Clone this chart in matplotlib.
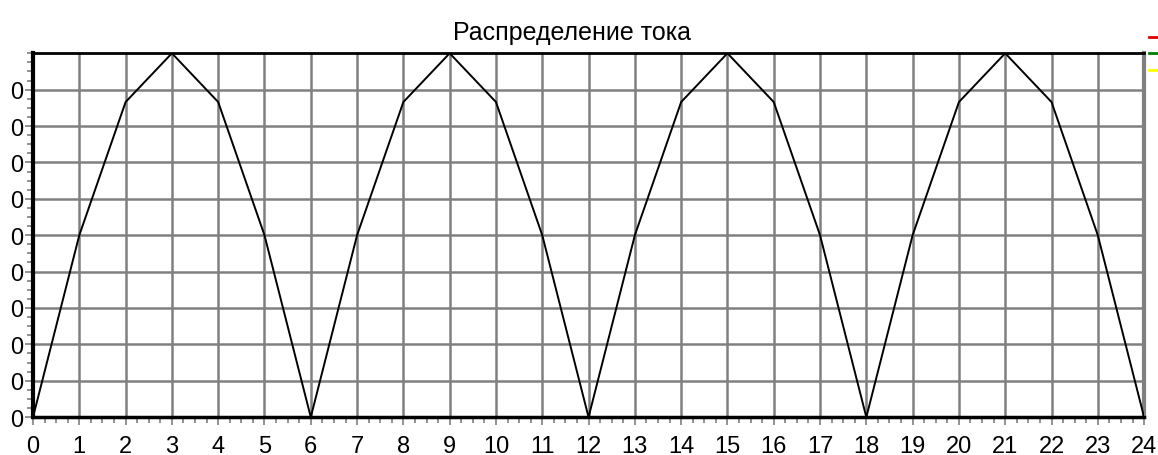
import numpy as np
import matplotlib.pyplot as plt
from matplotlib.lines import Line2D
from matplotlib.ticker import MultipleLocator, FuncFormatter

plt.rcParams['font.family'] = ['Liberation Sans', 'DejaVu Sans']

# current distribution over 24 hours
hours = list(range(25))
current = [0, 0.5, 0.866, 1, 0.866, 0.5,
           0, 0.5, 0.866, 1, 0.866, 0.5,
           0, 0.5, 0.866, 1, 0.866, 0.5,
           0, 0.5, 0.866, 1, 0.866, 0.5,
           0]
y_ticks = [0, 0.1, 0.2, 0.3, 0.4, 0.5, 0.6, 0.7, 0.8, 0.9]
legend_colors = ['#e00000', '#008000', '#ffff00']

fig = plt.figure(figsize=(11.58, 4.56), dpi=100)
ax = fig.add_axes([0.0285, 0.083, 0.9595, 0.798])

ax.plot(hours, current, color='black', lw=1.4, zorder=3)

ax.set_xlim(0, 24)
ax.set_ylim(0, 1)
ax.set_xticks(hours)
ax.set_yticks(y_ticks)
# integer part only, as the axis shows it
ax.yaxis.set_major_formatter(FuncFormatter(lambda v, p: str(int(v))))
ax.xaxis.set_minor_locator(MultipleLocator(0.25))
ax.yaxis.set_minor_locator(MultipleLocator(0.025))

ax.grid(True, which='major', color='#808080', lw=1.8)
ax.set_axisbelow(True)

ax.tick_params(which='major', length=6, width=1.2, color='#808080',
               labelsize=17)
ax.tick_params(which='minor', length=4, width=1.2, color='#808080')
ax.tick_params(axis='x', pad=7)
ax.tick_params(axis='y', pad=1)

for side in ('left', 'top', 'bottom'):
    ax.spines[side].set_color('black')
ax.spines['left'].set_linewidth(3)
ax.spines['top'].set_linewidth(2)
ax.spines['bottom'].set_linewidth(2.5)
ax.spines['right'].set_color('#808080')
ax.spines['right'].set_linewidth(3)

ax.set_title('Распределение тока', fontsize=18, pad=10, x=0.485)

handles = [Line2D([], [], color=c, lw=2) for c in legend_colors]
fig.legend(handles, [''] * 3, loc='upper right', bbox_to_anchor=(1.0, 0.925),
           frameon=False, handlelength=0.8, handletextpad=0, labelspacing=0.55,
           borderpad=0, borderaxespad=0, fontsize=8)

fig.savefig('out.png', dpi=100)
